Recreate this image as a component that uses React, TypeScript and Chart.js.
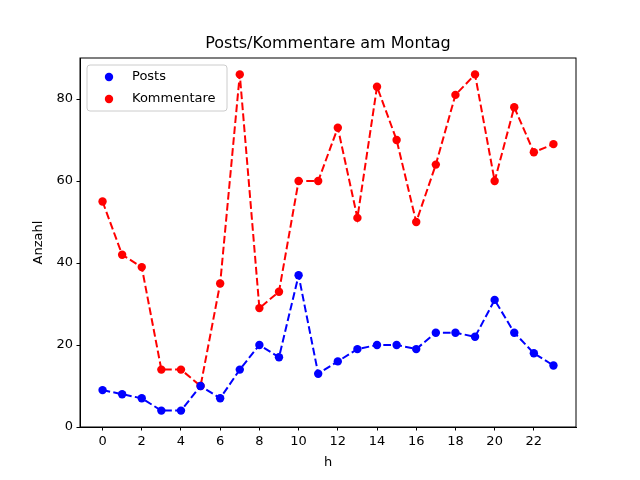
import { useEffect, useRef } from 'react';
import { Chart, registerables } from 'chart.js';

Chart.register(...registerables);

const hours = [0, 1, 2, 3, 4, 5, 6, 7, 8, 9, 10, 11, 12, 13, 14, 15, 16, 17, 18, 19, 20, 21, 22, 23];
const posts = [9, 8, 7, 4, 4, 10, 7, 14, 20, 17, 37, 13, 16, 19, 20, 20, 19, 23, 23, 22, 31, 23, 18, 15];
const kommentare = [55, 42, 39, 14, 14, 10, 35, 86, 29, 33, 60, 60, 73, 51, 83, 70, 50, 64, 81, 86, 60, 78, 67, 69];
const xTicks = [0, 2, 4, 6, 8, 10, 12, 14, 16, 18, 20, 22];
const yTicks = [0, 20, 40, 60, 80];

const FONT = 'DejaVu Sans';

// frame, title and legend box in matplotlib style
const decor = {
  id: 'decor',
  afterDraw(chart: any) {
    const { ctx, chartArea: a } = chart;
    ctx.save();
    ctx.strokeStyle = '#000';
    ctx.lineWidth = 1;
    ctx.strokeRect(a.left, a.top, a.right - a.left, a.bottom - a.top);

    ctx.fillStyle = '#000';
    ctx.font = `16px "${FONT}"`;
    ctx.textAlign = 'center';
    ctx.textBaseline = 'middle';
    ctx.fillText('Posts/Kommentare am Montag', (a.left + a.right) / 2, 44);

    // legend
    const x = a.left + 7, y = a.top + 7, w = 140, h = 46;
    ctx.globalAlpha = 0.8;
    ctx.fillStyle = '#fff';
    ctx.beginPath();
    ctx.roundRect(x, y, w, h, 3);
    ctx.fill();
    ctx.globalAlpha = 1;
    ctx.strokeStyle = '#ccc';
    ctx.stroke();
    ctx.font = `13px "${FONT}"`;
    ctx.textAlign = 'left';
    chart.data.datasets.forEach((ds: any, i: number) => {
      const cy = y + 12 + i * 22;
      ctx.fillStyle = ds.pointBackgroundColor;
      ctx.beginPath();
      ctx.arc(x + 22, cy, 4.2, 0, Math.PI * 2);
      ctx.fill();
      ctx.fillStyle = '#000';
      ctx.fillText(ds.label, x + 45, cy);
    });
    ctx.restore();
  },
};

export default function App() {
  const chartRef = useRef<HTMLCanvasElement>(null);

  useEffect(() => {
    if (!chartRef.current) return;
    const ctx = chartRef.current.getContext('2d');
    if (!ctx) return;

    const line = (label: string, values: number[], color: string) => ({
      label,
      data: hours.map((h, i) => ({ x: h, y: values[i] })),
      borderColor: color,
      backgroundColor: color,
      pointBackgroundColor: color,
      pointBorderColor: color,
      borderWidth: 2,
      borderDash: [7.7, 3.3],
      pointRadius: 4.2,
      pointBorderWidth: 0,
      tension: 0,
    });

    const chart = new Chart(ctx, {
      type: 'line',
      data: {
        datasets: [line('Posts', posts, '#0000ff'), line('Kommentare', kommentare, '#ff0000')],
      },
      plugins: [decor],
      options: {
        responsive: false,
        animation: false,
        layout: { padding: { top: 58, right: 64, bottom: 0, left: 0 } },
        plugins: { legend: { display: false }, tooltip: { enabled: false } },
        scales: {
          x: {
            type: 'linear',
            min: -1.15,
            max: 24.15,
            afterBuildTicks: (s: any) => { s.ticks = xTicks.map((v) => ({ value: v })); },
            afterFit: (s: any) => { s.height = 53; },
            grid: { drawOnChartArea: false, drawTicks: true, tickLength: 3.5, color: '#000' },
            border: { display: true, color: '#000' },
            ticks: { color: '#000', padding: 3.5, maxRotation: 0, font: { family: FONT, size: 13 } },
            title: { display: true, text: 'h', color: '#000', padding: { top: 0, bottom: 10 }, font: { family: FONT, size: 13 } },
          },
          y: {
            min: 0,
            max: 90,
            afterBuildTicks: (s: any) => { s.ticks = yTicks.map((v) => ({ value: v })); },
            afterFit: (s: any) => { s.width = 80; },
            grid: { drawOnChartArea: false, drawTicks: true, tickLength: 3.5, color: '#000' },
            border: { display: true, color: '#000' },
            ticks: { color: '#000', padding: 3.5, font: { family: FONT, size: 13 } },
            title: { display: true, text: 'Anzahl', color: '#000', padding: { top: 31, bottom: 0 }, font: { family: FONT, size: 13 } },
          },
        },
      },
    });

    return () => chart.destroy();
  }, []);

  return (
    <div style={{ position: 'fixed', left: 0, top: 0, background: '#fff' }}>
      <canvas ref={chartRef} width={640} height={480} />
    </div>
  );
}
